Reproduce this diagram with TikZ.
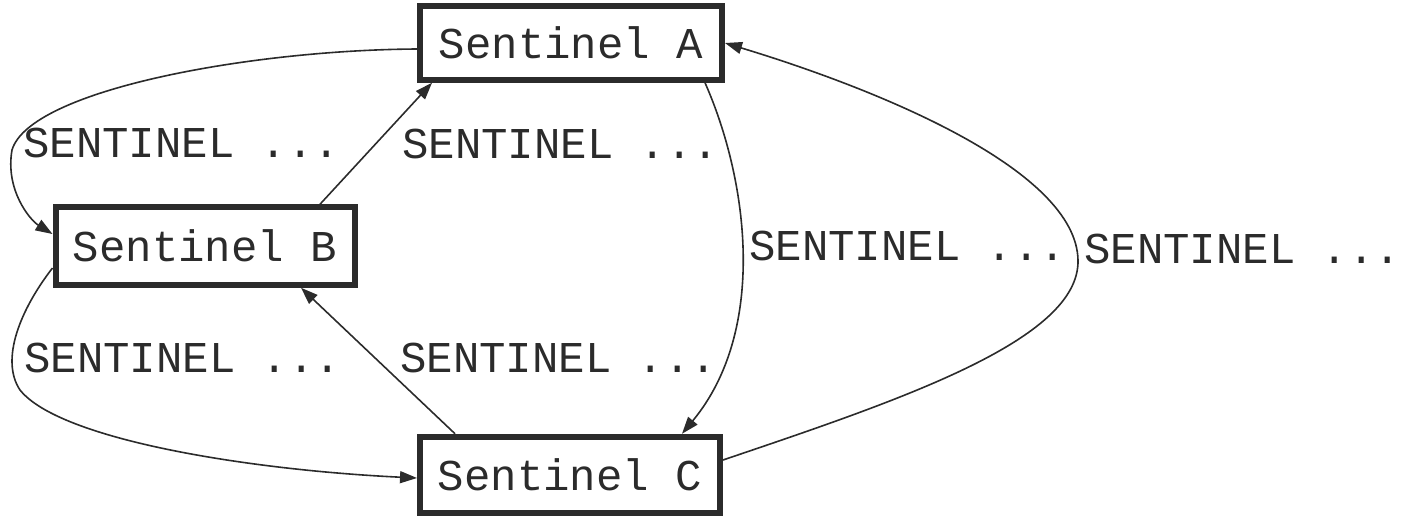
\documentclass[tikz,border=0pt]{standalone}
\usepackage{fontspec}
\setmonofont{Liberation Mono}
\usetikzlibrary{arrows.meta}
\definecolor{ink}{HTML}{2B2B2B}
\begin{document}
\begin{tikzpicture}[x=1pt,y=-1pt,
  box/.style={draw=ink, line width=6pt, minimum width=300pt, minimum height=76pt,
    inner sep=0pt, text=ink, font=\ttfamily\fontsize{44}{50}\selectfont},
  lbl/.style={anchor=base west, inner sep=0pt, text=ink, font=\ttfamily\fontsize{44}{50}\selectfont},
  edge/.style={draw=ink, line width=1.6pt, -{Triangle[length=17pt,width=12pt]}}]
\useasboundingbox (0,0) rectangle (1402,517);

\node[box, minimum width=302pt, minimum height=73.5pt] (A) at (571,43) {Sentinel A};
\node[box, minimum width=299pt, minimum height=77.5pt] (B) at (205,246) {Sentinel B};
\node[box, minimum width=300pt, minimum height=76.5pt] (C) at (570,475) {Sentinel C};

% A -> B
\draw[edge] ([yshift=-6pt]A.west) .. controls (250,50) and (30,90) .. (12,150)
  .. controls (5,190) and (30,220) .. ([yshift=12pt]B.west);
% B -> A
\draw[edge] ([xshift=115pt]B.north) -- ([xshift=-139pt]A.south);
% A -> C
\draw[edge] ([xshift=134pt]A.south) .. controls (748,180) and (768,330) .. ([xshift=112pt]C.north);
% C -> A
\draw[edge] ([yshift=15pt]C.east) .. controls (900,400) and (1080,340) .. (1078,260)
  .. controls (1076,170) and (880,90) .. (A.east);
% B -> C
\draw[edge] ([yshift=-22pt]B.west) .. controls (20,310) and (0,360) .. (20,390)
  .. controls (60,440) and (250,470) .. ([yshift=-3pt]C.west);
% C -> B
\draw[edge] ([xshift=-115pt]C.north) -- ([xshift=96pt]B.south);

\node[lbl] (l1) at (23,157) {SENTINEL ...};
\node[lbl] (l2) at (402,158) {SENTINEL ...};
\node[lbl] (l3) at (749,260) {SENTINEL ...};
\node[lbl] (l4) at (1084,263) {SENTINEL ...};
\node[lbl] (l5) at (24,372) {SENTINEL ...};
\node[lbl] (l6) at (400,372) {SENTINEL ...};
\end{tikzpicture}
\end{document}
